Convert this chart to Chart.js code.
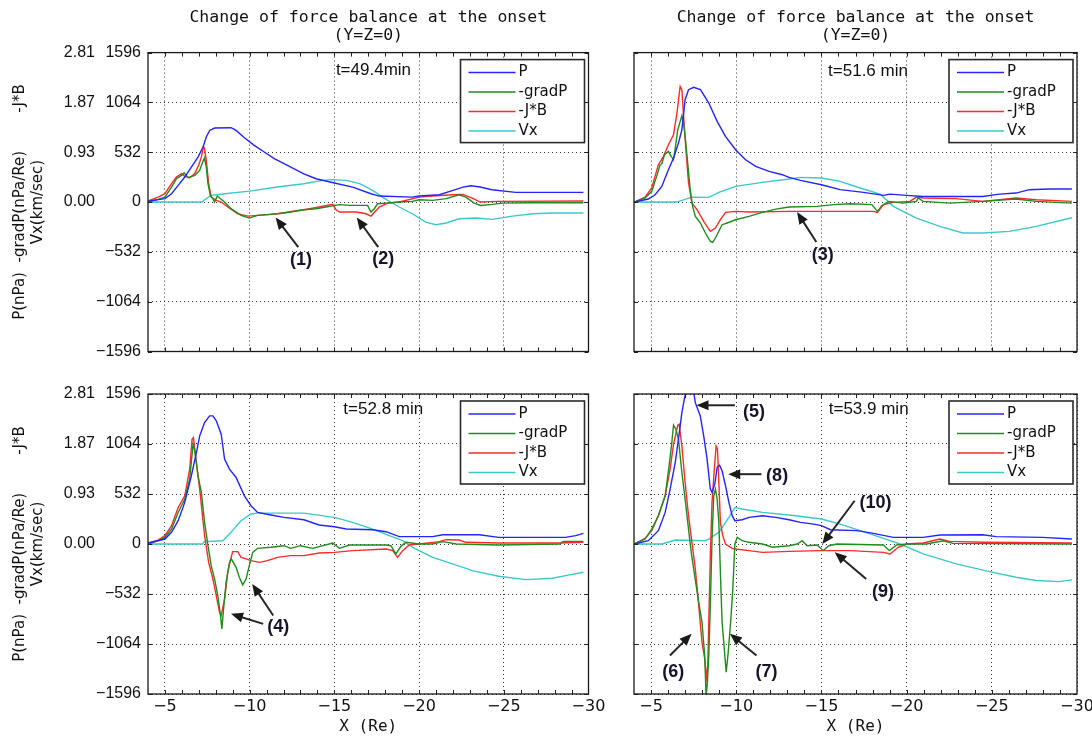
<!DOCTYPE html>
<html>
<head>
<meta charset="utf-8">
<title>Change of force balance at the onset</title>
<script src="https://cdn.jsdelivr.net/npm/chart.js@4.4.1/dist/chart.umd.min.js"></script>
<style>
  html, body { margin: 0; padding: 0; background: #fff; }
  #wrap { position: relative; width: 1092px; height: 740px; overflow: hidden; background: #fff; }
  canvas { position: absolute; }
</style>
</head>
<body>
<div id="wrap">
  <canvas id="cA" width="612" height="370" style="left:0;top:0"></canvas>
  <canvas id="cB" width="492" height="370" style="left:600px;top:0"></canvas>
  <canvas id="cC" width="612" height="370" style="left:0;top:370px"></canvas>
  <canvas id="cD" width="492" height="370" style="left:600px;top:370px"></canvas>
</div>
<script>
// ---------------------------------------------------------------------------
// Data: [X (Re), value] pairs.
// Vx in km/sec; P, -gradP and -J*B share the same axis (2.81 nPa <-> 1596).
// ---------------------------------------------------------------------------
const titleLines   = ['Change of force balance at the onset', '(Y=Z=0)'];
const seriesNames  = ['P', '-gradP', '-J*B', 'Vx'];
const xTickValues  = [-5, -10, -15, -20, -25, -30];
const yTickValues  = [-1596, -1064, -532, 0, 532, 1064, 1596];
const pTickLabels  = ['', '', '', '0.00', '0.93', '1.87', '2.81'];

// t = 49.4 min
const A_P = [[-4.02,10],[-5,36],[-5.39,89],[-5.78,178],[-6.17,267],[-6.56,374],[-6.95,480],[-7.25,587],[-7.44,694],[-7.64,765],[-7.93,790],[-8.9,794],[-9.2,765],[-9.69,687],[-10.27,605],[-10.86,534],[-11.45,463],[-12.03,409],[-12.6,356],[-13.2,300],[-13.92,249],[-15,203],[-16.08,160],[-17.16,89],[-17.65,64],[-19.6,53],[-20,64],[-21.2,78],[-22,125],[-22.6,160],[-23.05,174],[-23.6,160],[-24.3,132],[-25.7,103],[-29.7,103]];
const A_gradP = [[-4.02,0],[-4.6,28],[-5,53],[-5.39,160],[-5.68,249],[-5.98,285],[-6.13,313],[-6.37,260],[-6.76,285],[-7.05,338],[-7.19,409],[-7.34,473],[-7.44,374],[-7.54,196],[-7.68,71],[-7.83,36],[-7.93,0],[-8.09,64],[-8.28,36],[-8.52,0],[-8.9,-71],[-9.49,-142],[-9.98,-171],[-10.47,-142],[-11.25,-132],[-12.03,-117],[-13.2,-82],[-13.92,-71],[-14.5,-53],[-15.3,-28],[-15.9,-36],[-16.96,-36],[-17.16,-107],[-17.36,-71],[-17.55,-18],[-18.05,-11],[-18.83,0],[-19.6,7],[-20,25],[-20.8,18],[-21.6,36],[-22.37,78],[-22.76,53],[-23.25,-11],[-23.64,-36],[-24.33,-25],[-24.9,-11],[-26.7,-7],[-29.7,-7]];
const A_JxB = [[-4.02,11],[-4.6,53],[-5,89],[-5.39,196],[-5.68,267],[-5.98,303],[-6.17,274],[-6.46,260],[-6.76,303],[-6.99,392],[-7.15,480],[-7.27,594],[-7.34,570],[-7.44,445],[-7.58,196],[-7.73,53],[-8.03,18],[-8.32,0],[-8.71,-53],[-9.3,-125],[-9.88,-150],[-10.47,-142],[-11.64,-125],[-13.2,-82],[-14.1,-53],[-14.9,-25],[-15.1,-82],[-15.3,-107],[-16.3,-107],[-16.87,-125],[-17.16,-150],[-17.65,-53],[-18.14,-11],[-18.83,0],[-20,53],[-20.8,64],[-22,78],[-22.6,82],[-23.2,36],[-23.6,0],[-24.7,7],[-29.7,11]];
const A_Vx = [[-4.02,0],[-7.2,0],[-7.34,25],[-7.73,71],[-8.52,89],[-10,117],[-11.64,160],[-13.2,196],[-14.3,231],[-14.9,239],[-15.7,231],[-16.5,196],[-17.26,125],[-18.05,28],[-18.83,-53],[-19.6,-125],[-20.4,-214],[-20.99,-242],[-21.6,-224],[-22.37,-178],[-23.35,-171],[-24.33,-185],[-25.5,-150],[-26.7,-125],[-27.87,-117],[-29.7,-117]];

// t = 51.6 min
const B_P = [[-4.02,0],[-4.84,32],[-5.24,78],[-5.63,167],[-6.02,345],[-6.32,470],[-6.61,630],[-6.81,772],[-7.0,1093],[-7.2,1200],[-7.5,1225],[-7.9,1200],[-8.39,1057],[-8.88,862],[-9.37,701],[-9.96,559],[-10.55,452],[-11.14,381],[-11.93,328],[-12.7,292],[-13.1,263],[-13.77,231],[-15,185],[-16.1,132],[-17.47,103],[-18.64,71],[-19.03,85],[-20,71],[-20.97,60],[-24.47,60],[-25.45,85],[-26.42,96],[-27.2,132],[-28.36,139],[-29.7,139]];
const B_gradP = [[-4.02,0],[-4.65,43],[-5.04,114],[-5.33,274],[-5.53,399],[-5.63,409],[-5.79,505],[-6.02,541],[-6.18,488],[-6.32,452],[-6.42,577],[-6.57,772],[-6.81,922],[-6.91,844],[-7.0,701],[-7.17,381],[-7.3,132],[-7.44,-46],[-7.6,-153],[-7.9,-224],[-8.19,-331],[-8.48,-420],[-8.62,-431],[-8.78,-384],[-9.17,-242],[-9.47,-224],[-9.96,-189],[-10.75,-153],[-11.54,-110],[-12.32,-75],[-13.1,-53],[-14.75,-46],[-15.72,-28],[-16.7,-18],[-17.96,-28],[-18.29,-100],[-18.54,-39],[-18.93,7],[-19.8,-11],[-20.58,7],[-20.68,43],[-20.97,7],[-22.53,-11],[-24.47,7],[-26.42,32],[-27.6,7],[-29.7,-11]];
const B_JxB = [[-4.02,0],[-4.65,53],[-5.04,150],[-5.43,399],[-5.73,488],[-6.02,612],[-6.32,719],[-6.52,950],[-6.71,1235],[-6.81,1200],[-6.91,915],[-7.05,559],[-7.2,203],[-7.4,-11],[-7.7,-82],[-8.09,-206],[-8.48,-313],[-8.78,-278],[-9.07,-189],[-9.37,-110],[-9.96,-100],[-10.75,-107],[-13.1,-100],[-18.05,-100],[-18.29,-110],[-18.64,-28],[-19.2,-4],[-20.19,7],[-20.58,53],[-20.97,43],[-22.9,36],[-24.47,7],[-26.42,43],[-27.6,25],[-29.7,7]];
const B_Vx = [[-4.02,0],[-6.5,0],[-6.81,18],[-7.4,53],[-8.39,50],[-8.98,103],[-9.96,167],[-11.54,210],[-13.1,246],[-13.77,263],[-15,256],[-16.1,221],[-17.28,150],[-18.44,85],[-19.22,-46],[-20.58,-171],[-21.95,-260],[-23.3,-331],[-24.47,-331],[-26.03,-313],[-27.6,-260],[-29.7,-168]];

// t = 52.8 min
const C_P = [[-4.02,11],[-5,53],[-5.39,124],[-5.78,248],[-6.17,443],[-6.56,726],[-6.86,974],[-7.05,1150],[-7.34,1292],[-7.64,1363],[-7.83,1363],[-8.03,1310],[-8.32,1168],[-8.52,903],[-8.81,797],[-9.2,708],[-9.69,513],[-10.08,407],[-10.47,336],[-11.25,308],[-12.03,283],[-13.2,258],[-14.1,202],[-15,184],[-15.7,159],[-17.26,152],[-18.05,131],[-18.83,78],[-20.8,78],[-21.4,99],[-23.55,99],[-24.7,71],[-28.65,71],[-29.24,89],[-29.7,113]];
const C_gradP = [[-4.02,0],[-4.6,35],[-5,71],[-5.39,159],[-5.78,336],[-6.17,478],[-6.46,690],[-6.66,1062],[-6.76,991],[-6.95,726],[-7.15,549],[-7.34,230],[-7.54,-18],[-7.73,-230],[-7.93,-372],[-8.12,-549],[-8.28,-761],[-8.36,-903],[-8.46,-690],[-8.61,-407],[-8.81,-195],[-8.92,-160],[-9.2,-248],[-9.39,-354],[-9.59,-435],[-9.79,-372],[-9.98,-230],[-10.18,-89],[-10.47,-46],[-11.25,-35],[-12.03,-18],[-12.42,-46],[-13.0,-18],[-13.72,-46],[-14.9,11],[-15.3,-46],[-15.9,-11],[-18.05,-11],[-18.34,-18],[-18.63,-106],[-18.93,-25],[-19.22,18],[-20,0],[-20.8,0],[-21.4,25],[-22.2,0],[-24.7,-11],[-28.3,0],[-28.5,28],[-29.7,28]];
const C_JxB = [[-4.02,11],[-4.6,42],[-5,89],[-5.39,195],[-5.78,389],[-6.17,513],[-6.46,797],[-6.6,1115],[-6.68,1133],[-6.86,867],[-7.05,584],[-7.34,89],[-7.58,-195],[-7.83,-372],[-8.03,-549],[-8.22,-726],[-8.32,-761],[-8.52,-584],[-8.71,-301],[-8.87,-166],[-9.0,-81],[-9.3,-81],[-9.49,-142],[-9.79,-159],[-10.08,-177],[-10.57,-195],[-11.05,-177],[-11.64,-142],[-12.42,-124],[-13.2,-124],[-14.1,-96],[-15,-89],[-16.08,-71],[-18.05,-53],[-18.44,-71],[-18.73,-142],[-19.03,-71],[-19.42,-11],[-20,0],[-21.2,25],[-21.6,46],[-22.37,42],[-22.76,18],[-24.7,11],[-28.3,11],[-29.7,18]];
const C_Vx = [[-4.02,0],[-7.2,0],[-7.34,25],[-8.42,35],[-8.9,124],[-9.49,248],[-10.08,319],[-10.47,329],[-13.2,329],[-15,283],[-16.08,230],[-17.26,159],[-18.24,89],[-19.03,35],[-19.62,-35],[-20.8,-142],[-21.98,-212],[-23.15,-283],[-24.7,-343],[-26.3,-379],[-27.87,-365],[-28.65,-336],[-29.7,-301]];

// t = 53.9 min
const D_P = [[-4.02,0],[-4.84,35],[-5.43,142],[-5.83,336],[-6.12,584],[-6.42,867],[-6.61,1115],[-6.81,1398],[-6.97,1558],[-7.05,1620],[-7.5,1620],[-7.6,1504],[-7.89,1363],[-8.09,1150],[-8.29,903],[-8.48,584],[-8.58,549],[-8.74,637],[-8.88,814],[-9.02,839],[-9.17,779],[-9.37,620],[-9.57,443],[-9.76,301],[-9.92,248],[-10.35,258],[-10.75,283],[-11.54,301],[-12.32,283],[-13.1,258],[-13.77,230],[-14.55,212],[-15,195],[-15.53,152],[-17.08,142],[-18.05,113],[-19.22,71],[-20.97,71],[-21.95,96],[-24.47,99],[-25.25,78],[-27.98,71],[-29.7,53]];
const D_gradP = [[-4.02,0],[-4.65,53],[-5.04,159],[-5.43,301],[-5.83,513],[-6.06,832],[-6.22,1080],[-6.32,1264],[-6.46,1221],[-6.61,1115],[-6.81,761],[-7.0,478],[-7.2,159],[-7.36,-89],[-7.56,-336],[-7.8,-620],[-7.99,-832],[-8.15,-1186],[-8.23,-1620],[-8.31,-1469],[-8.39,-1186],[-8.48,-655],[-8.58,53],[-8.68,513],[-8.78,584],[-8.88,478],[-8.98,230],[-9.07,-301],[-9.17,-832],[-9.33,-1186],[-9.41,-1363],[-9.53,-1150],[-9.67,-832],[-9.8,-478],[-9.92,0],[-10.06,71],[-10.35,35],[-10.75,18],[-11.54,0],[-12.13,-35],[-13.1,-18],[-13.58,0],[-13.87,35],[-14.16,-18],[-14.75,-11],[-15.1,-71],[-15.43,-18],[-15.91,0],[-18.64,-11],[-18.99,-71],[-19.42,-11],[-20,0],[-21.17,0],[-22.14,35],[-22.72,7],[-29.7,0]];
const D_JxB = [[-4.02,0],[-4.65,60],[-5.04,142],[-5.43,301],[-5.83,513],[-6.12,797],[-6.32,1062],[-6.57,1264],[-6.65,1274],[-6.81,1044],[-7.0,655],[-7.2,301],[-7.4,18],[-7.6,-266],[-7.8,-655],[-7.99,-1044],[-8.15,-1221],[-8.25,-1420],[-8.33,-1292],[-8.39,-832],[-8.48,-124],[-8.58,443],[-8.7,761],[-8.82,1044],[-8.9,1009],[-8.98,655],[-9.07,230],[-9.21,89],[-9.37,0],[-9.76,-46],[-9.96,-53],[-10.75,-71],[-11.54,-89],[-13.1,-78],[-15,-71],[-16.7,-71],[-18.64,-89],[-19.03,-106],[-19.51,-35],[-20,0],[-20.97,11],[-21.95,53],[-22.53,28],[-24.5,18],[-29.7,11]];
const D_Vx = [[-4.02,0],[-5.65,0],[-6.42,42],[-8.19,35],[-8.39,53],[-8.98,124],[-9.57,283],[-9.92,389],[-10.35,372],[-11.54,336],[-13.1,308],[-13.97,290],[-15,266],[-16.1,212],[-17.28,142],[-18.64,60],[-19.61,0],[-20.97,-106],[-22.92,-212],[-24.86,-294],[-26.42,-354],[-27.6,-389],[-28.95,-400],[-29.7,-382]];

// numbered arrows, in data coordinates: label centre, arrow tail, arrow tip
const arrowsA = [
  { text: '(1)', at: [-13.03, -623], tail: [-12.87, -481], tip: [-11.53, -165] },
  { text: '(2)', at: [-17.89, -604], tail: [-17.59, -481], tip: [-16.32, -165] }
];
const arrowsB = [
  { text: '(3)', at: [-15.08, -569], tail: [-14.70, -427], tip: [-13.57, -107] }
];
const arrowsC = [
  { text: '(4)', at: [-11.69, -885], tail: [-10.80, -850], tip: [-8.90, -743] },
  { text: '',    at: [-11.69, -885], tail: [-11.39, -761], tip: [-10.15, -425] }
];
const arrowsD = [
  { text: '(5)',  at: [-11.04, 1399],  tail: [-9.92, 1476],   tip: [-7.67, 1476] },
  { text: '(8)',  at: [-12.40, 725],   tail: [-11.48, 743],   tip: [-9.53, 743] },
  { text: '(6)',  at: [-6.31, -1363],  tail: [-6.11, -1186],  tip: [-7.38, -956] },
  { text: '(7)',  at: [-11.77, -1363], tail: [-11.19, -1186], tip: [-9.63, -956] },
  { text: '(10)', at: [-18.17, 435],   tail: [-16.95, 460],   tip: [-15.05, 0] },
  { text: '(9)',  at: [-18.61, -513],  tail: [-17.63, -372],  tip: [-15.78, -88] }
];

// ---------------------------------------------------------------------------
// Styling
// ---------------------------------------------------------------------------
const seriesColors = ['#2424ff', '#1e8c1e', '#ff2a2a', '#3cc8c8'];
const TEXT = '#111';
const TICK_FONT = { family: '"Liberation Sans", sans-serif', size: 16 };
Chart.defaults.font.family = '"DejaVu Sans", sans-serif';
Chart.defaults.color = TEXT;

function drawArrow(ctx, x0, y0, x1, y1) {
  const ang = Math.atan2(y1 - y0, x1 - x0);
  const head = 12, half = 5;
  const c = Math.cos(ang), s = Math.sin(ang);
  ctx.beginPath();
  ctx.moveTo(x0, y0);
  ctx.lineTo(x1 - c * head * 0.8, y1 - s * head * 0.8);
  ctx.stroke();
  ctx.beginPath();
  ctx.moveTo(x1, y1);
  ctx.lineTo(x1 - head * c + half * s, y1 - head * s - half * c);
  ctx.lineTo(x1 - head * c - half * s, y1 - head * s + half * c);
  ctx.closePath();
  ctx.fill();
}

// box, inward ticks, legend, time stamp and numbered arrows (MATLAB look)
const panelDecor = {
  id: 'panelDecor',
  afterDatasetsDraw(chart, args, opts) {
    const { ctx, chartArea: a } = chart;
    const x = chart.scales.x, y = chart.scales.y;
    ctx.save();

    // inward tick marks
    ctx.strokeStyle = '#222';
    ctx.lineWidth = 1;
    ctx.beginPath();
    for (let v = -5; v >= -29; v -= 1) {
      const px = Math.round(x.getPixelForValue(v)) + 0.5;
      ctx.moveTo(px, a.bottom); ctx.lineTo(px, a.bottom - 4);
      ctx.moveTo(px, a.top);    ctx.lineTo(px, a.top + 4);
    }
    y.ticks.forEach(t => {
      const py = Math.round(y.getPixelForValue(t.value)) + 0.5;
      ctx.moveTo(a.left, py);  ctx.lineTo(a.left + 4, py);
      ctx.moveTo(a.right, py); ctx.lineTo(a.right - 4, py);
    });
    ctx.stroke();

    // plot box
    ctx.strokeStyle = '#1a1a1a';
    ctx.lineWidth = 1.3;
    ctx.strokeRect(a.left, a.top, a.right - a.left, a.bottom - a.top);

    // time stamp
    ctx.fillStyle = TEXT;
    ctx.font = '17px "Liberation Sans", sans-serif';
    ctx.textAlign = 'left';
    ctx.textBaseline = 'middle';
    ctx.fillText(opts.time, x.getPixelForValue(opts.timeAt[0]), y.getPixelForValue(opts.timeAt[1]));

    // numbered arrows
    ctx.strokeStyle = '#262626';
    ctx.fillStyle = '#1a1a1a';
    ctx.lineWidth = 2;
    opts.arrows.forEach(ar => {
      drawArrow(ctx,
        x.getPixelForValue(ar.tail[0]), y.getPixelForValue(ar.tail[1]),
        x.getPixelForValue(ar.tip[0]),  y.getPixelForValue(ar.tip[1]));
    });
    ctx.fillStyle = '#15152a';
    ctx.font = 'bold 18px "Liberation Sans", sans-serif';
    ctx.textAlign = 'center';
    opts.arrows.forEach(ar => {
      if (ar.text) ctx.fillText(ar.text, x.getPixelForValue(ar.at[0]), y.getPixelForValue(ar.at[1]));
    });

    // legend box
    const lw = 124, lh = 83;
    const lx = a.right - 4 - lw, ly = a.top + 7;
    ctx.fillStyle = '#fff';
    ctx.fillRect(lx, ly, lw, lh);
    ctx.strokeStyle = '#2a2a2a';
    ctx.lineWidth = 1.6;
    ctx.strokeRect(lx, ly, lw, lh);
    ctx.font = '15px "DejaVu Sans", sans-serif';
    ctx.textAlign = 'left';
    chart.data.datasets.forEach((ds, i) => {
      const yy = ly + 13 + i * 19.5;
      ctx.strokeStyle = ds.borderColor;
      ctx.lineWidth = 1.5;
      ctx.beginPath();
      ctx.moveTo(lx + 8, yy); ctx.lineTo(lx + 55, yy);
      ctx.stroke();
      ctx.fillStyle = TEXT;
      ctx.fillText(ds.label, lx + 58, yy);
    });
    ctx.restore();
  }
};

const minusSign = v => String(v).replace('-', '\u2212');
const setTicks = values => s => { s.ticks = values.map(v => ({ value: v })); };

function makePanel(id, p) {
  const scales = {
    x: {
      type: 'linear', min: -30, max: -4, reverse: true,
      afterBuildTicks: setTicks(xTickValues),
      afterFit: s => { s.height = p.bottom ? 46 : 18.5; s.paddingLeft = 0; s.paddingRight = 0; },
      grid: { color: '#333', lineWidth: 1, drawTicks: false },
      border: { display: false, dash: [1, 3] },
      ticks: {
        display: p.bottom, autoSkip: false, maxRotation: 0, padding: 3,
        color: TEXT, font: { size: 16 }, callback: minusSign
      },
      title: {
        display: p.bottom, text: 'X (Re)', color: TEXT,
        font: { family: '"DejaVu Sans Mono", monospace', size: 16 },
        padding: { top: 0, bottom: 3.4 }
      }
    },
    y: {
      type: 'linear', position: 'left', weight: 0, min: -1596, max: 1596,
      afterBuildTicks: setTicks(yTickValues),
      afterFit: s => { s.width = p.left ? 53 : 34; s.paddingTop = 0; s.paddingBottom = 0; },
      grid: { color: '#333', lineWidth: 1, drawTicks: false },
      border: { display: false, dash: [1, 3] },
      ticks: { display: p.left, padding: 7, color: TEXT, font: TICK_FONT, callback: minusSign }
    }
  };
  if (p.left) {
    scales.yP = {
      type: 'linear', position: 'left', weight: 1, min: -1596, max: 1596,
      afterBuildTicks: setTicks(yTickValues),
      afterFit: s => { s.width = 95; s.paddingTop = 0; s.paddingBottom = 0; },
      grid: { display: false, drawTicks: false },
      border: { display: false },
      ticks: { padding: 0, color: TEXT, font: TICK_FONT, callback: (v, i) => pTickLabels[i] },
      title: {
        display: true, color: TEXT,
        text: ['P(nPa)  -gradP(nPa/Re)        -J*B', 'Vx(km/sec)'],
        font: { size: 15, lineHeight: 1.2 },
        padding: { top: 11, bottom: 0 }
      }
    };
  }

  return new Chart(document.getElementById(id), {
    type: 'line',
    data: {
      datasets: p.series.map((s, i) => ({
        label: seriesNames[i],
        data: s.map(([vx, vy]) => ({ x: vx, y: vy })),
        borderColor: seriesColors[i],
        borderWidth: 1.4,
        pointRadius: 0,
        fill: false,
        tension: 0,
        yAxisID: 'y'
      }))
    },
    options: {
      responsive: false,
      animation: false,
      devicePixelRatio: 1,
      events: [],
      layout: { padding: { top: p.bottom ? 24 : 0, right: p.left ? 23.5 : 15, bottom: 0, left: 0 } },
      scales: scales,
      plugins: {
        legend: { display: false },
        tooltip: { enabled: false },
        title: {
          display: !p.bottom, fullSize: false, text: titleLines, color: TEXT,
          font: { family: '"DejaVu Sans Mono", monospace', size: 16.5, weight: 'normal', lineHeight: 1.13 },
          padding: { top: 8, bottom: 7.3 }
        },
        panelDecor: { time: p.time, timeAt: p.timeAt, arrows: p.arrows }
      }
    },
    plugins: [panelDecor]
  });
}

makePanel('cA', { left: true,  bottom: false, series: [A_P, A_gradP, A_JxB, A_Vx], time: 't=49.4min',  timeAt: [-15.09, 1406], arrows: arrowsA });
makePanel('cB', { left: false, bottom: false, series: [B_P, B_gradP, B_JxB, B_Vx], time: 't=51.6 min', timeAt: [-15.39, 1399], arrows: arrowsB });
makePanel('cC', { left: true,  bottom: true,  series: [C_P, C_gradP, C_JxB, C_Vx], time: 't=52.8 min', timeAt: [-15.53, 1434], arrows: arrowsC });
makePanel('cD', { left: false, bottom: true,  series: [D_P, D_gradP, D_JxB, D_Vx], time: 't=53.9 min', timeAt: [-15.43, 1434], arrows: arrowsD });
</script>
</body>
</html>
